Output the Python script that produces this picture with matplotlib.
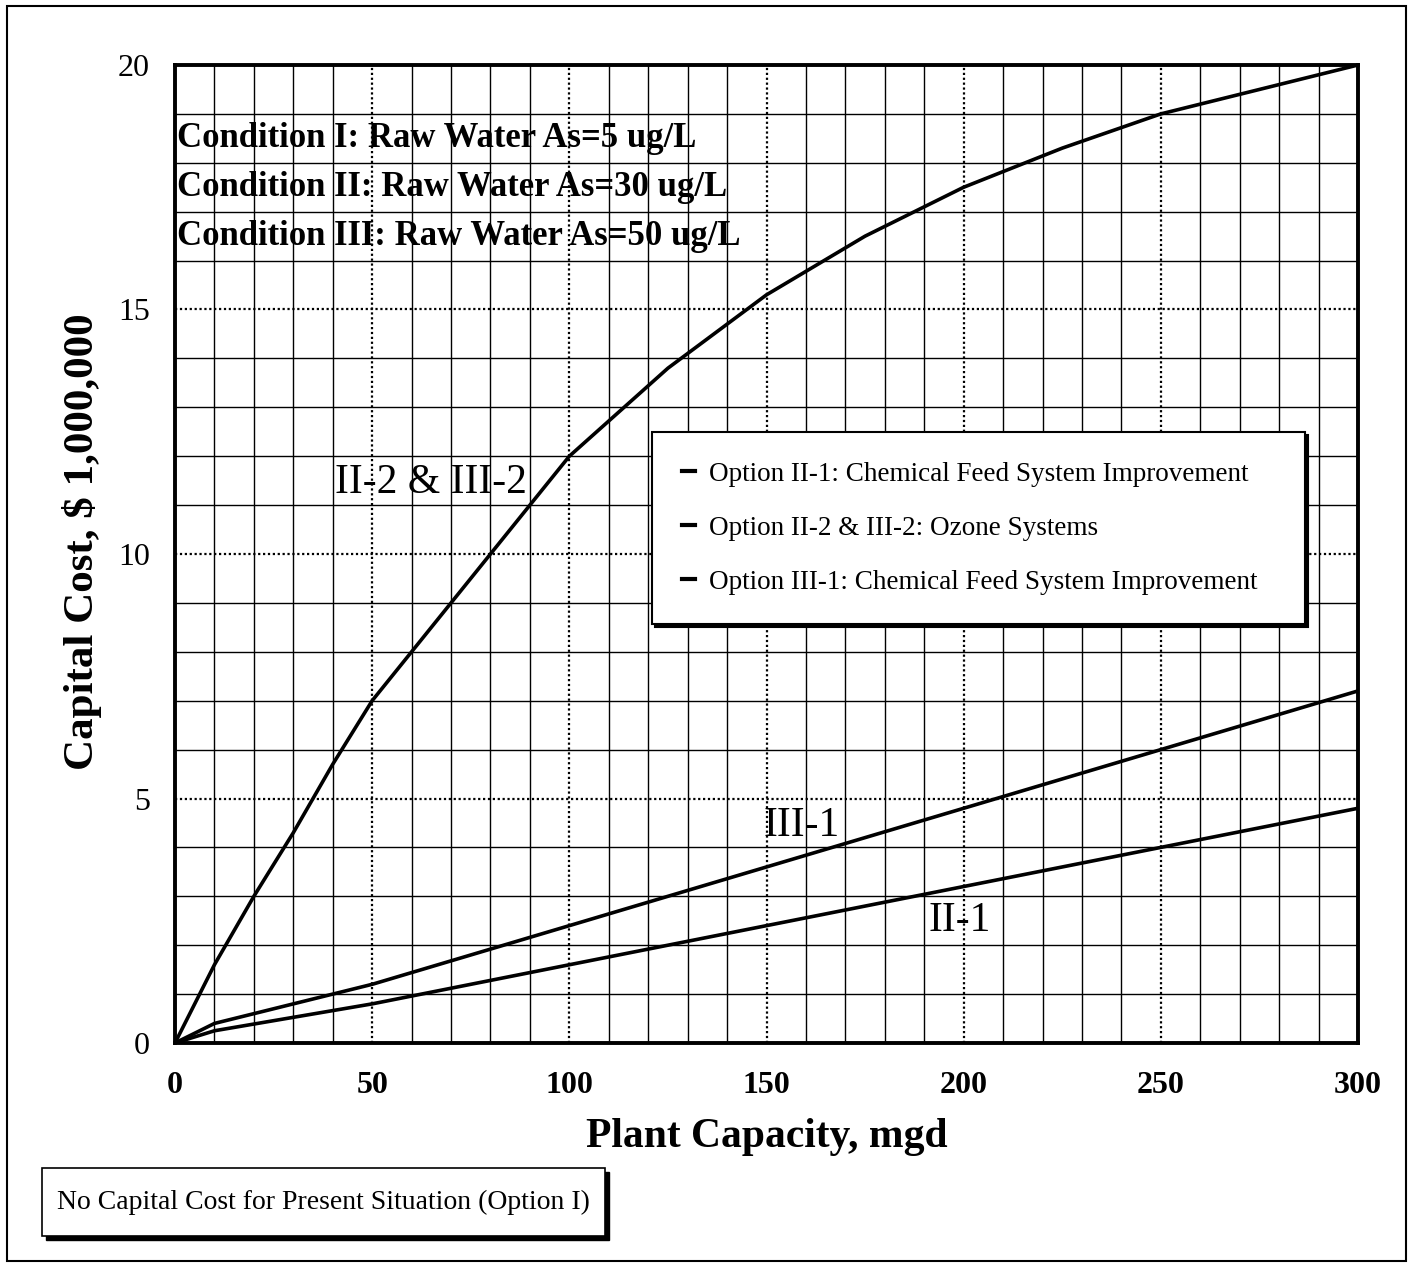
import matplotlib.pyplot as plt
from matplotlib.patches import Rectangle
from matplotlib.ticker import MultipleLocator

plt.rcParams['font.family'] = ['Liberation Serif', 'DejaVu Serif']

# plant capacity, mgd
capacity_ozone = [0, 10, 20, 30, 40, 50, 60, 70, 80, 90, 100, 125, 150, 175, 200, 225, 250, 275, 300]
cost_ozone = [0, 1.6, 3.0, 4.3, 5.7, 7.0, 8.0, 9.0, 10.0, 11.0, 12.0, 13.8, 15.3, 16.5, 17.5, 18.3, 19.0, 19.5, 20.0]

capacity_feed = [0, 10, 50, 100, 150, 200, 250, 300]
cost_iii1 = [0, 0.4, 1.2, 2.4, 3.6, 4.8, 6.0, 7.2]
cost_ii1 = [0, 0.25, 0.8, 1.6, 2.4, 3.2, 4.0, 4.8]

legend_labels = ['Option II-1: Chemical Feed System Improvement',
                 'Option II-2 & III-2: Ozone Systems',
                 'Option III-1: Chemical Feed System Improvement']
conditions = ['Condition I: Raw Water As=5 ug/L',
              'Condition II: Raw Water As=30 ug/L',
              'Condition III: Raw Water As=50 ug/L']

W, H = 1417, 1263
fig = plt.figure(figsize=(W / 100, H / 100), dpi=100)
ax = fig.add_axes([175 / W, 1 - 1043 / H, (1358 - 175) / W, (1043 - 65) / H])

ln1, = ax.plot(capacity_feed, cost_ii1, color='black', lw=2.6)
ln2, = ax.plot(capacity_ozone, cost_ozone, color='black', lw=2.6)
ln3, = ax.plot(capacity_feed, cost_iii1, color='black', lw=2.6)

ax.set_xlim(0, 300)
ax.set_ylim(0, 20)
ax.xaxis.set_major_locator(MultipleLocator(50))
ax.xaxis.set_minor_locator(MultipleLocator(10))
ax.yaxis.set_major_locator(MultipleLocator(5))
ax.yaxis.set_minor_locator(MultipleLocator(1))
ax.grid(which='minor', color='black', lw=1.0, ls='-')
ax.grid(which='major', color='black', lw=1.6, ls=(0, (1, 1.2)))
ax.tick_params(which='both', length=0)
ax.tick_params(axis='y', labelsize=23, pad=18)
ax.tick_params(axis='x', labelsize=23, pad=20)
for lab in ax.get_xticklabels():
    lab.set_fontweight('bold')
for s in ax.spines.values():
    s.set_linewidth(2.8)

ax.set_xlabel('Plant Capacity, mgd', fontsize=30, fontweight='bold', labelpad=13)
ax.set_ylabel('Capital Cost, $ 1,000,000', fontsize=31, fontweight='bold')
ax.yaxis.set_label_coords(-0.062, 0.513)

for i, txt in enumerate(conditions):
    ax.text(0.6, 18.5 - i, txt, fontsize=25, fontweight='bold', va='center', ha='left')

ax.text(65, 11.45, 'II-2 & III-2', fontsize=30, ha='center', va='center')
ax.text(159, 4.45, 'III-1', fontsize=30, ha='center', va='center')
ax.text(199, 2.5, 'II-1', fontsize=30, ha='center', va='center')

leg = ax.legend([ln1, ln2, ln3], legend_labels, loc='upper left', mode='expand',
                bbox_to_anchor=(0.403, 0.43, 0.552, 0.195), borderaxespad=0,
                fontsize=19.5, handlelength=0.5,
                handletextpad=0.5, labelspacing=1.07, borderpad=1.1,
                fancybox=False, framealpha=1, edgecolor='black',
                shadow={'color': 'black', 'alpha': 1})
leg.get_frame().set_linewidth(1.5)
for h in leg.legend_handles:
    h.set_linewidth(3)

# note box at bottom with shadow
fig.add_artist(Rectangle((46 / W, 1 - 1240 / H), 563 / W, 68 / H,
                         transform=fig.transFigure, facecolor='black', edgecolor='black'))
fig.add_artist(Rectangle((42 / W, 1 - 1236 / H), 563 / W, 68 / H,
                         transform=fig.transFigure, facecolor='white', edgecolor='black', lw=1.2))
fig.text((42 + 563 / 2) / W, 1 - 1202 / H, 'No Capital Cost for Present Situation (Option I)',
         fontsize=20, ha='center', va='center')

# outer frame
fig.add_artist(Rectangle((7 / W, 2 / H), 1399 / W, 1255 / H, transform=fig.transFigure,
                         facecolor='none', edgecolor='black', lw=1.5))

fig.savefig('out.png', dpi=100)
